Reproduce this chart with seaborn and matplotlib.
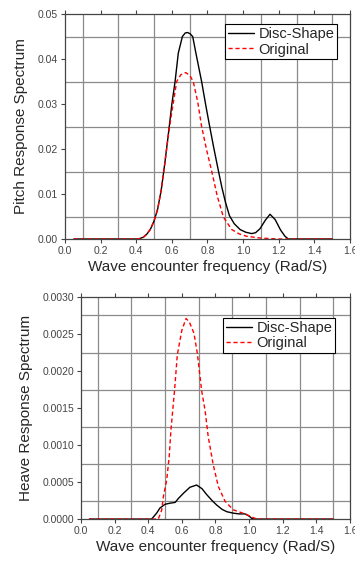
import numpy as np
import pandas as pd
import matplotlib
matplotlib.use("Agg")
import matplotlib.pyplot as plt
import seaborn as sns

# pitch response spectrum
pitch_freq = [0.05, 0.2, 0.4, 0.42, 0.44, 0.46, 0.48, 0.5, 0.52, 0.54, 0.56, 0.58, 0.6,
              0.618, 0.636, 0.659, 0.675, 0.689, 0.703, 0.717, 0.735, 0.767, 0.79, 0.81,
              0.835, 0.861, 0.88, 0.9, 0.923, 0.95, 0.983, 1.015, 1.048, 1.07, 1.095,
              1.125, 1.151, 1.18, 1.21, 1.235, 1.254, 1.5]
pitch_disc = [0.0, 0.0, 0.0, 0.0001, 0.0004, 0.0011, 0.0022, 0.0040, 0.0066, 0.0108,
              0.0167, 0.0232, 0.0300, 0.0350, 0.0413, 0.0450, 0.0458, 0.0459, 0.0456,
              0.0450, 0.0413, 0.0350, 0.0298, 0.0255, 0.0203, 0.0152, 0.0116, 0.0083,
              0.0052, 0.0034, 0.0021, 0.0015, 0.0012, 0.0014, 0.0023, 0.0042, 0.0055,
              0.0043, 0.0020, 0.0006, 0.0, 0.0]
pitch_orig_freq = [0.05, 0.2, 0.4, 0.42, 0.44, 0.46, 0.48, 0.5, 0.52, 0.54, 0.56, 0.58,
                   0.6, 0.627, 0.65, 0.677, 0.70, 0.72, 0.745, 0.767, 0.795, 0.824,
                   0.855, 0.889, 0.936, 0.98, 1.02, 1.1, 1.2, 1.5]
pitch_orig = [0.0, 0.0, 0.0, 0.0001, 0.0004, 0.0011, 0.0022, 0.0040, 0.0066, 0.0108,
              0.0167, 0.0230, 0.0283, 0.0350, 0.0365, 0.0370, 0.0364, 0.0350, 0.0305,
              0.0250, 0.0198, 0.0150, 0.0095, 0.0049, 0.0021, 0.0011, 0.0006, 0.0002,
              0.0, 0.0]

# heave response spectrum
heave_disc_freq = [0.05, 0.2, 0.42, 0.45, 0.47, 0.5, 0.53, 0.56, 0.58, 0.61, 0.648,
                   0.688, 0.72, 0.748, 0.78, 0.807, 0.84, 0.867, 0.906, 0.94, 0.976,
                   1.0, 1.015, 1.03, 1.1, 1.5]
heave_disc = [0.0, 0.0, 0.0, 0.00008, 0.00015, 0.0002, 0.000215, 0.000225, 0.00028,
              0.00035, 0.00043, 0.00046, 0.00041, 0.00033, 0.00025, 0.00019, 0.00013,
              0.0001, 0.00008, 0.00007, 0.00007, 0.00004, 0.00001, 0.0, 0.0, 0.0]
heave_orig_freq = [0.05, 0.2, 0.46, 0.48, 0.49, 0.51, 0.525, 0.535, 0.545, 0.557,
                   0.573, 0.60, 0.625, 0.645, 0.672, 0.692, 0.718, 0.738, 0.757, 0.787,
                   0.817, 0.857, 0.906, 0.976, 1.035, 1.06, 1.2, 1.5]
heave_orig = [0.0, 0.0, 0.0, 0.00012, 0.0003, 0.00053, 0.00085, 0.0012, 0.00145, 0.00175,
              0.00222, 0.00255, 0.00271, 0.00266, 0.00251, 0.00224, 0.00173, 0.00147,
              0.00111, 0.00073, 0.00044, 0.00024, 0.000125, 0.00007, 0.00001, 0.0, 0.0,
              0.0]

sns.set_style("white")
plt.rcParams["font.family"] = ["Liberation Sans", "DejaVu Sans"]

fig = plt.figure(figsize=(3.55, 5.63), dpi=100)
ax1 = fig.add_axes([0.183, 0.5755, 0.803, 0.3995])
ax2 = fig.add_axes([0.228, 0.078, 0.758, 0.3945])


def style_axis(ax, ymax, ystep, yfmt, ylabel):
    ax.set_xlim(0, 1.6)
    ax.set_ylim(0, ymax)
    xmaj = np.arange(0, 1.61, 0.2)
    ymaj = np.arange(0, ymax + ystep / 2, ystep)
    ax.set_xticks(xmaj)
    ax.set_xticks(np.arange(0.1, 1.6, 0.2), minor=True)
    ax.set_yticks(ymaj)
    ax.set_yticks(np.arange(ystep / 2, ymax, ystep), minor=True)
    ax.set_xticklabels([f"{v:.1f}" for v in xmaj])
    ax.set_yticklabels([yfmt.format(v) for v in ymaj])
    ax.grid(False, which="major")
    ax.grid(True, which="minor", color="#8a8a8a", linewidth=0.9)
    ax.tick_params(which="major", direction="out", labelsize=7.5, colors="#444444",
                   length=3, width=0.8, top=True, left=True, bottom=True, pad=2)
    ax.tick_params(which="minor", length=0)
    for s in ["left", "bottom", "top", "right"]:
        ax.spines[s].set_color("#444444")
        ax.spines[s].set_linewidth(0.9)
    ax.set_xlabel("Wave encounter frequency (Rad/S)", fontsize=11, labelpad=3)
    ax.set_ylabel(ylabel, fontsize=11, labelpad=7)


sns.lineplot(x=pitch_freq, y=pitch_disc, ax=ax1, color="black", linewidth=1.0,
             label="Disc-Shape")
sns.lineplot(x=pitch_orig_freq, y=pitch_orig, ax=ax1, color="red", linewidth=1.0,
             linestyle=(0, (3, 2)), label="Original")
style_axis(ax1, 0.05, 0.01, "{:.2f}", "Pitch Response Spectrum")

sns.lineplot(x=heave_disc_freq, y=heave_disc, ax=ax2, color="black", linewidth=1.0,
             label="Disc-Shape")
sns.lineplot(x=heave_orig_freq, y=heave_orig, ax=ax2, color="red", linewidth=1.0,
             linestyle=(0, (3, 2)), label="Original")
style_axis(ax2, 0.003, 0.0005, "{:.4f}", "Heave Response Spectrum")

for ax, anchor in [(ax1, (0.955, 0.955)), (ax2, (0.945, 0.905))]:
    leg = ax.legend(loc="upper right", bbox_to_anchor=anchor, fontsize=10.5,
                    frameon=True, fancybox=False, handlelength=1.8, handletextpad=0.3,
                    borderpad=0.2, labelspacing=0.1, borderaxespad=0)
    leg.get_frame().set_edgecolor("black")
    leg.get_frame().set_linewidth(0.8)
    leg.get_frame().set_alpha(1)

fig.savefig("out.png", dpi=100)
